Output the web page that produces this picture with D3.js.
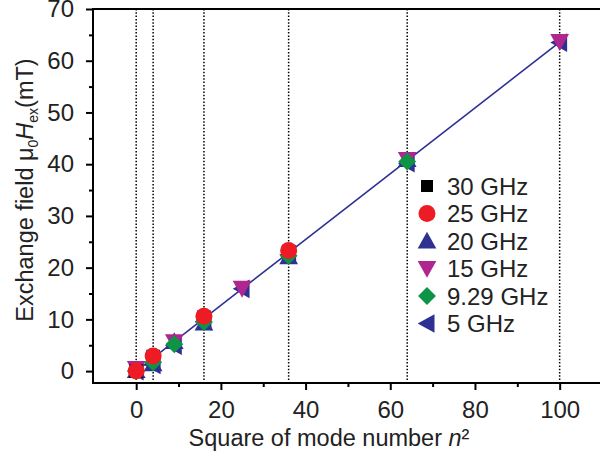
<!DOCTYPE html>
<html>
<head>
<meta charset="utf-8">
<script src="https://cdn.jsdelivr.net/npm/d3@7"></script>
<style>
  body { margin: 0; background: #fff; }
  svg { font-family: "Liberation Sans", Arial, sans-serif; }
</style>
</head>
<body>
<div id="chart"></div>
<script>
// data
var modeLines = [0, 4, 16, 36, 64, 100];
var fitX = [0, 100];
var fitY = [0, 63.6];

var x30 = [0, 4, 16, 36];
var y30 = [0, 2.8, 10.4, 23.1];
var x25 = [0, 4, 16, 36];
var y25 = [0, 2.9, 10.6, 23.3];
var x20 = [0, 4, 9, 16, 36, 64];
var y20 = [0.1, 1.4, 5.7, 9.3, 22.1, 40.9];
var x15 = [0, 9, 25, 64, 100];
var y15 = [0.5, 5.7, 16.0, 40.9, 63.7];
var x929 = [0, 4, 9, 16, 36, 64];
var y929 = [0, 1.7, 5.2, 9.5, 22.3, 40.5];
var x5 = [0, 4, 9, 16, 25, 36, 64, 100];
var y5 = [0, 1.2, 4.9, 9.6, 15.9, 22.5, 40.2, 63.5];

var legendLabels = ["30 GHz", "25 GHz", "20 GHz", "15 GHz", "9.29 GHz", "5 GHz"];
var xTicks = [0, 20, 40, 60, 80, 100];
var yTicks = [0, 10, 20, 30, 40, 50, 60, 70];

var series = [
  {name: "5 GHz", xs: x5, ys: y5, shape: "left", color: "#2e3192"},
  {name: "20 GHz", xs: x20, ys: y20, shape: "up", color: "#2e3192"},
  {name: "15 GHz", xs: x15, ys: y15, shape: "down", color: "#b0268f"},
  {name: "30 GHz", xs: x30, ys: y30, shape: "square", color: "#000000"},
  {name: "9.29 GHz", xs: x929, ys: y929, shape: "diamond", color: "#0d9447"},
  {name: "25 GHz", xs: x25, ys: y25, shape: "circle", color: "#ed1c24"}
];

var W = 600, H = 456;
var margin = {left: 93, top: 9, right: -2, bottom: 73};
var width = W - margin.left - margin.right;
var height = H - margin.top - margin.bottom;

var svg = d3.select("#chart").append("svg")
  .attr("width", W)
  .attr("height", H);

var g = svg.append("g")
  .attr("transform", "translate(" + margin.left + "," + margin.top + ")");

var xScale = d3.scaleLinear().domain([-10.2, 110]).range([0, width]);
var yScale = d3.scaleLinear().domain([-2.3, 70]).range([height, 0]);

function marker(shape, s) {
  var r = s / 2;
  if (shape == "circle") return d3.symbol(d3.symbolCircle, Math.PI * r * r)();
  if (shape == "square") return "M" + (-r * 0.8) + "," + (-r * 0.8) + "h" + (1.6 * r) + "v" + (1.6 * r) + "h" + (-1.6 * r) + "Z";
  if (shape == "diamond") return "M0," + (-r * 1.05) + "L" + (r * 1.05) + ",0L0," + (r * 1.05) + "L" + (-r * 1.05) + ",0Z";
  var h = r * 1.1;
  if (shape == "up") return "M0," + (-h) + "L" + h + "," + (h * 0.8) + "L" + (-h) + "," + (h * 0.8) + "Z";
  if (shape == "down") return "M0," + h + "L" + h + "," + (-h * 0.8) + "L" + (-h) + "," + (-h * 0.8) + "Z";
  if (shape == "left") return "M" + (-h) + ",0L" + (h * 0.8) + "," + (-h) + "L" + (h * 0.8) + "," + h + "Z";
}

// dotted mode lines
g.selectAll(".mode").data(modeLines).enter().append("line")
  .attr("x1", d => xScale(d)).attr("x2", d => xScale(d))
  .attr("y1", 0).attr("y2", height)
  .attr("stroke", "#000")
  .attr("stroke-width", 1.5)
  .attr("stroke-dasharray", "1.5,1.8");

// fit line
var fit = fitX.map((d, i) => [d, fitY[i]]);
g.append("path")
  .attr("d", d3.line().x(d => xScale(d[0])).y(d => yScale(d[1]))(fit))
  .attr("fill", "none")
  .attr("stroke", "#2e3192")
  .attr("stroke-width", 1.6);

// markers
series.forEach(function(s) {
  var pts = s.xs.map((d, i) => [d, s.ys[i]]);
  g.selectAll(null).data(pts).enter().append("path")
    .attr("d", marker(s.shape, 17))
    .attr("transform", d => "translate(" + xScale(d[0]) + "," + yScale(d[1]) + ")")
    .attr("fill", s.color);
});

// frame
g.append("rect")
  .attr("width", width).attr("height", height)
  .attr("fill", "none")
  .attr("stroke", "#000")
  .attr("stroke-width", 2);

// axes
g.append("g")
  .attr("transform", "translate(0," + height + ")")
  .call(d3.axisBottom(xScale).tickValues(xTicks).tickSize(7).tickPadding(11));
g.append("g")
  .attr("transform", "translate(0," + height + ")")
  .call(d3.axisBottom(xScale).tickValues([10, 30, 50, 70, 90]).tickSize(4).tickFormat(""));
g.append("g")
  .call(d3.axisLeft(yScale).tickValues(yTicks).tickSize(7).tickPadding(12));
g.append("g")
  .call(d3.axisLeft(yScale).tickValues([5, 15, 25, 35, 45, 55, 65]).tickSize(4).tickFormat(""));

g.selectAll(".domain").remove();
g.selectAll(".tick line").attr("stroke", "#000").attr("stroke-width", 2);
g.selectAll(".tick text")
  .attr("fill", "#222")
  .style("font-size", "24px")
  .style("font-family", "'Liberation Sans', Arial, sans-serif");

// axis titles
svg.append("text")
  .attr("x", 329)
  .attr("y", 446)
  .attr("text-anchor", "middle")
  .attr("fill", "#222")
  .style("font-size", "23.5px")
  .html("Square of mode number <tspan font-style='italic'>n</tspan>²");

var yl = svg.append("text")
  .attr("transform", "translate(33,190) rotate(-90)")
  .attr("text-anchor", "middle")
  .attr("fill", "#222")
  .style("font-size", "23.5px");
yl.append("tspan").text("Exchange field μ");
yl.append("tspan").attr("dy", 5).style("font-size", "14px").text("0");
yl.append("tspan").attr("dy", -5).style("font-style", "italic").text("H");
yl.append("tspan").attr("dy", 5).style("font-size", "14px").text("ex");
yl.append("tspan").attr("dy", -5).text("(mT)");

// legend
var legendShapes = ["square", "circle", "up", "down", "diamond", "left"];
var legendColors = ["#000000", "#ed1c24", "#2e3192", "#b0268f", "#0d9447", "#2e3192"];
var legend = svg.append("g").attr("transform", "translate(427,186)");
legendLabels.forEach(function(lab, i) {
  var row = legend.append("g").attr("transform", "translate(0," + (i * 27.5) + ")");
  row.append("path").attr("d", marker(legendShapes[i], legendShapes[i] == "square" ? 15 : 17)).attr("fill", legendColors[i]);
  row.append("text")
    .attr("x", 20).attr("y", 8.5)
    .attr("fill", "#222")
    .style("font-size", "24px")
    .text(lab);
});
</script>
</body>
</html>
